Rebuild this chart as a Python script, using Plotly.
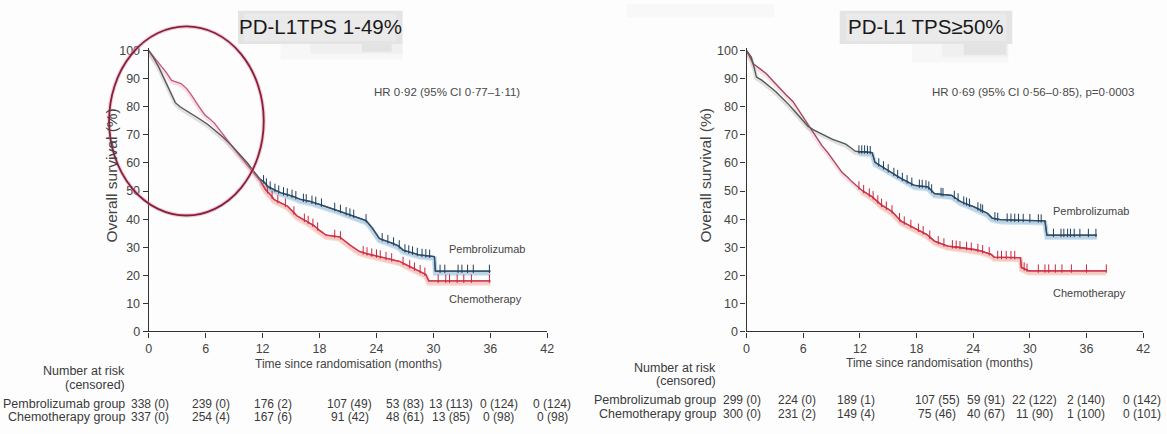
import numpy as np
import plotly.graph_objects as go

W, H = 1167, 434
FONT = "Liberation Sans, Arial, sans-serif"

# ---------------- data ----------------
time_ticks = [0, 6, 12, 18, 24, 30, 36, 42]

# PD-L1 TPS 1-49%
l_pem_t = [0, 0.5, 1.0, 1.5, 2.0, 2.5, 2.8, 3.3, 3.8, 4.5, 5.2, 6.2, 7.0, 7.9, 8.8, 9.7, 10.4,
           11.1, 11.8, 12.1, 12.6, 13.2, 13.9, 14.5, 15.3, 16.0, 17.0, 18.0, 19.0, 20.1, 20.8,
           21.5, 22.9, 23.3, 23.6, 24.3, 25.0, 25.7, 26.3, 26.8, 27.6, 28.5, 30.1, 30.2, 36.0]
l_pem_s = [100, 97.5, 94.5, 91, 87.5, 83.7, 81.5, 80, 79, 77.5, 76, 73.8, 71.5, 69, 66, 62.7, 60,
           56.9, 54, 53.4, 51.5, 50.5, 49.4, 48.8, 48, 47, 46.3, 45.3, 44.2, 43, 42,
           41.2, 39.5, 38, 36.6, 33.1, 32.3, 31.4, 30.5, 29, 28.2, 27.3, 26.7, 21.5, 21.5]
l_che_t = [0, 0.6, 1.3, 1.9, 2.4, 2.9, 3.4, 4.0, 4.5, 5.2, 5.9, 6.4, 6.9, 7.6, 8.3, 9.0, 9.7, 10.4,
           11.1, 11.8, 12.3, 12.8, 13.2, 13.9, 14.6, 15.1, 15.6, 16.5, 17.4, 18.0, 18.7, 20.1,
           20.6, 21.2, 22.2, 23.2, 24.3, 25.3, 26.4, 27.1, 27.8, 28.5, 29.2, 29.5, 36.0]
l_che_s = [100, 97.5, 94.8, 92, 89.4, 88.8, 88.3, 86.5, 84.2, 80.5, 77.2, 75.8, 74.3, 71.2, 68, 65,
           62.1, 59.2, 56.3, 53.4, 50.5, 48.8, 47, 45.8, 44.7, 43, 41.2, 39.5, 37.7, 36, 34.3,
           33.7, 32.3, 30.8, 28.5, 27.5, 26.7, 25.8, 25, 23.8, 22.6, 21.5, 20.3, 18, 18]
l_pem_cens = [12.1, 12.4, 12.8, 13.3, 13.7, 14.2, 14.6, 15.1, 15.5, 16.3, 16.6, 17.2, 17.6, 18.2,
              19.6, 20.2, 20.8, 21.2, 21.6, 22.9, 24.6, 25.2, 25.8, 26.4, 27.0, 27.4, 27.8, 28.3,
              28.8, 29.2, 29.6, 30.7, 31.2, 32.6, 33.0, 33.6, 34.2, 35.9]
l_che_cens = [12.5, 13.0, 13.6, 14.4, 15.3, 16.4, 16.8, 17.3, 17.8, 19.6, 20.2, 22.6, 23.0, 23.5,
              24.0, 24.4, 25.0, 25.6, 26.8, 27.5, 28.0, 28.6, 29.1, 30.5, 31.3, 31.7, 32.5, 33.2,
              34.0, 35.9]
l_risk_pem = ["338 (0)", "239 (0)", "176 (2)", "107 (49)", "53 (83)", "13 (113)", "0 (124)", "0 (124)"]
l_risk_che = ["337 (0)", "254 (4)", "167 (6)", "91 (42)", "48 (61)", "13 (85)", "0 (98)", "0 (98)"]

# PD-L1 TPS >= 50%
r_pem_t = [0, 0.5, 0.8, 1.05, 1.6, 2.1, 2.6, 3.1, 3.8, 4.5, 5.0, 5.6, 6.0, 6.5, 7.1, 7.7, 8.4, 9.1,
           9.8, 10.5, 11.0, 11.5, 11.9, 12.5, 13.3, 13.6, 14.1, 14.7, 15.5, 16.4, 17.1, 17.8, 19.2,
           19.9, 21.7, 22.2, 22.7, 23.4, 24.1, 24.8, 25.5, 26.0, 26.9, 31.6, 31.8, 37.1]
r_pem_s = [100, 97.7, 94, 90.6, 89.5, 88.3, 86.8, 85.4, 83.2, 80.7, 78.8, 76.6, 74.8, 73.1, 71.8,
           70.8, 69.6, 68.4, 67.6, 66.7, 65.5, 64.2, 64.0, 64.0, 63.7, 60.2, 59.2, 57.9, 56.2, 54.4,
           53.2, 52, 51.5, 49.1, 48.5, 47.4, 46.2, 45.3, 44.4, 43.2, 42.1, 40.4, 39.8, 39.4, 34.3, 34.3]
r_che_t = [0, 0.7, 1.4, 2.1, 2.8, 3.5, 4.2, 4.9, 5.4, 5.9, 6.5, 7.0, 7.5, 8.0, 8.6, 9.1, 9.6, 10.1,
           10.7, 11.2, 12.2, 12.8, 13.3, 13.8, 14.3, 14.9, 15.4, 15.9, 16.4, 17.1, 17.8, 18.5, 19.1,
           19.9, 20.6, 21.3, 22.4, 23.4, 24.1, 24.8, 25.4, 25.9, 26.2, 29.0, 29.1, 29.5, 29.9, 38.1]
r_che_s = [100, 95.3, 93.6, 91.8, 89.2, 86.5, 84.2, 81.9, 79.3, 76.6, 73.9, 71.3, 68.7, 66.1, 63.7,
           61.4, 59.1, 56.7, 54.9, 53.2, 50.3, 49.1, 48, 46.5, 45, 43.8, 42.7, 40.9, 39.2, 38, 36.8,
           35.6, 34.5, 32.2, 31.3, 30.4, 30.0, 29.6, 29.2, 28.7, 28.1, 27.5, 26.5, 26.3, 22.8, 22.2,
           21.6, 21.6]
r_pem_cens = [11.9, 12.2, 12.5, 12.8, 13.1, 14.0, 14.5, 15.0, 15.6, 16.0, 16.5, 17.0, 17.5, 18.3,
              18.6, 19.0, 19.3, 19.6, 20.6, 20.8, 22.0, 22.4, 23.0, 23.3, 23.6, 24.5, 24.8, 25.0,
              26.3, 26.6, 27.6, 28.0, 28.4, 28.8, 29.3, 30.0, 30.9, 31.2, 32.5, 33.3, 33.6, 34.0,
              34.3, 34.7, 35.3, 36.2, 37.0]
r_che_cens = [11.9, 12.4, 13.0, 13.4, 13.9, 14.3, 14.8, 15.4, 16.2, 16.7, 17.4, 18.2, 18.7, 19.4,
              20.3, 20.9, 21.8, 22.2, 22.6, 23.3, 23.8, 24.5, 25.0, 25.7, 26.6, 27.0, 27.5, 28.0,
              28.4, 29.4, 29.7, 30.9, 31.6, 32.0, 32.7, 33.4, 34.4, 36.0, 38.1]
r_risk_pem = ["299 (0)", "224 (0)", "189 (1)", "107 (55)", "59 (91)", "22 (122)", "2 (140)", "0 (142)"]
r_risk_che = ["300 (0)", "231 (2)", "149 (4)", "75 (46)", "40 (67)", "11 (90)", "1 (100)", "0 (101)"]

titles = ["PD-L1TPS 1-49%", "PD-L1 TPS≥50%"]
hr_text = ["HR 0·92 (95% CI 0·77–1·11)", "HR 0·69 (95% CI 0·56–0·85), p=0·0003"]
row_labels = ["Number at risk", "(censored)", "Pembrolizumab group", "Chemotherapy group"]

# ---------------- layout helpers ----------------
def px(xp):
    return xp / W

def py(yp):
    return 1 - yp / H

# pixel extent of each panel's time axis (0 to 42 months)
x_pix = [(147, 549), (750, 1150)]
x_dom = [[px(a), px(b)] for a, b in x_pix]
y_dom = [py(336), py(45)]

def month_px(i, m):
    a, b = x_pix[i]
    return a + (b - a) * m / 42.0

# risk-table column centres, in months
table_cols = [[0.1, 6.6, 13.1, 21.2, 27.0, 31.9, 36.9, 42.5],
              [-0.5, 5.3, 11.6, 20.2, 25.4, 30.5, 35.9, 41.9]]

fig = go.Figure()

panels = [
    dict(pt=l_pem_t, ps=l_pem_s, ct=l_che_t, cs=l_che_s, pc=l_pem_cens, cc=l_che_cens,
         rp=l_risk_pem, rc=l_risk_che),
    dict(pt=r_pem_t, ps=r_pem_s, ct=r_che_t, cs=r_che_s, pc=r_pem_cens, cc=r_che_cens,
         rp=r_risk_pem, rc=r_risk_che),
]

early_pem = ["#555555", "#4d5a55"]
early_che = ["#c45a7a", "#a8455a"]

for i, p in enumerate(panels):
    xa, ya = ("x", "y") if i == 0 else ("x2", "y2")
    pt, ps = np.array(p["pt"]), np.array(p["ps"])
    ct, cs = np.array(p["ct"]), np.array(p["cs"])
    late_p = pt >= 11.8
    late_c = ct >= 11.8
    # soft halo under each curve
    fig.add_trace(go.Scatter(x=pt, y=ps - 0.6, xaxis=xa, yaxis=ya, mode="lines",
                             line=dict(color="rgba(150,150,150,0.28)", width=4),
                             hoverinfo="skip", showlegend=False))
    fig.add_trace(go.Scatter(x=ct, y=cs - 0.6, xaxis=xa, yaxis=ya, mode="lines",
                             line=dict(color="rgba(230,150,170,0.28)", width=4),
                             hoverinfo="skip", showlegend=False))
    fig.add_trace(go.Scatter(x=pt[late_p], y=ps[late_p] - 0.8, xaxis=xa, yaxis=ya, mode="lines",
                             line=dict(color="rgba(120,180,230,0.35)", width=5),
                             hoverinfo="skip", showlegend=False))
    fig.add_trace(go.Scatter(x=ct[late_c], y=cs[late_c] - 0.8, xaxis=xa, yaxis=ya, mode="lines",
                             line=dict(color="rgba(245,160,130,0.35)", width=5),
                             hoverinfo="skip", showlegend=False))
    # main curves
    fig.add_trace(go.Scatter(x=ct, y=cs, xaxis=xa, yaxis=ya, mode="lines",
                             line=dict(color=early_che[i], width=1.3),
                             name="Chemotherapy", showlegend=False))
    fig.add_trace(go.Scatter(x=pt, y=ps, xaxis=xa, yaxis=ya, mode="lines",
                             line=dict(color=early_pem[i], width=1.3),
                             name="Pembrolizumab", showlegend=False))
    fig.add_trace(go.Scatter(x=ct[late_c], y=cs[late_c], xaxis=xa, yaxis=ya, mode="lines",
                             line=dict(color="#d6304c", width=1.3),
                             hoverinfo="skip", showlegend=False))
    fig.add_trace(go.Scatter(x=pt[late_p], y=ps[late_p], xaxis=xa, yaxis=ya, mode="lines",
                             line=dict(color="#2a4e70", width=1.3),
                             hoverinfo="skip", showlegend=False))
    # censoring marks
    fig.add_trace(go.Scatter(x=p["cc"], y=np.interp(p["cc"], ct, cs) + 0.8, xaxis=xa, yaxis=ya,
                             mode="markers",
                             marker=dict(symbol="line-ns", size=6,
                                         line=dict(color="#c8283c", width=1.0)),
                             hoverinfo="skip", showlegend=False))
    fig.add_trace(go.Scatter(x=p["pc"], y=np.interp(p["pc"], pt, ps) + 0.8, xaxis=xa, yaxis=ya,
                             mode="markers",
                             marker=dict(symbol="line-ns", size=6,
                                         line=dict(color="#1f3f5f", width=1.0)),
                             hoverinfo="skip", showlegend=False))

axis_common = dict(showline=True, linecolor="#333333", linewidth=1.3, ticks="outside",
                   ticklen=5, tickcolor="#333333", tickwidth=1.1, showgrid=False,
                   zeroline=False, tickfont=dict(family=FONT, size=12.5, color="#444444"))

fig.update_layout(
    width=W, height=H, margin=dict(l=0, r=0, t=0, b=0),
    paper_bgcolor="#fdfdfd", plot_bgcolor="rgba(0,0,0,0)",
    showlegend=False,
    xaxis=dict(domain=x_dom[0], range=[0, 42], tickvals=time_ticks, anchor="y", **axis_common),
    yaxis=dict(domain=y_dom, range=[0, 101], tickvals=list(range(0, 101, 10)), anchor="x",
               **axis_common),
    xaxis2=dict(domain=x_dom[1], range=[0, 42], tickvals=time_ticks, anchor="y2", **axis_common),
    yaxis2=dict(domain=y_dom, range=[0, 101], tickvals=list(range(0, 101, 10)), anchor="x2",
                **axis_common),
)

shapes = []
annots = []

def rect(x0, y0, x1, y1, color):
    shapes.append(dict(type="rect", xref="paper", yref="paper", x0=px(x0), x1=px(x1),
                       y0=py(y1), y1=py(y0), fillcolor=color, line=dict(width=0),
                       layer="below"))

# title boxes with a soft shadow beneath
title_box = [(237, 7, 403, 41), (844, 7, 1018, 41)]
shadow = [(280, 41, 403, 57, 362, 392), (917, 41, 1014, 60, 969, 1012)]
for (x0, y0, x1, y1), (s0, t0, s1, t1, d0, d1) in zip(title_box, shadow):
    rect(s0, t0, s1, t1, "rgba(215,215,215,0.14)")
    rect(s0 + 30, t0, s1, t1 - 6, "rgba(200,200,200,0.15)")
    rect(d0, t0, d1, t1 - 8, "rgba(180,180,180,0.22)")
    rect(x0, y0, x1, y1, "#e4e4e4")
    rect(x0 + 6, y0 + 3, x1 - 6, y1 - 3, "#eaeaea")
rect(629, 0, 778, 14, "rgba(225,225,225,0.16)")

title_x = [320, 931]
for i in range(2):
    annots.append(dict(x=px(title_x[i]), y=py(23), xref="paper", yref="paper", text=titles[i],
                       showarrow=False, xanchor="center", yanchor="middle",
                       font=dict(family=FONT, size=20.5, color="#1a1a1a")))

# highlight ellipse over the early crossing region
shapes.append(dict(type="circle", xref="paper", yref="paper", x0=px(107), x1=px(263),
                   y0=py(217), y1=py(23), line=dict(color="rgba(230,150,170,0.45)", width=4)))
shapes.append(dict(type="circle", xref="paper", yref="paper", x0=px(107), x1=px(263),
                   y0=py(217), y1=py(23), line=dict(color="#86203c", width=1.8)))

# hazard ratio text
hr_x = [523, 1143]
for i in range(2):
    annots.append(dict(x=px(hr_x[i]), y=py(90), xref="paper", yref="paper", text=hr_text[i],
                       showarrow=False, xanchor="right", yanchor="middle",
                       font=dict(family=FONT, size=11.5, color="#4a4a4a")))

# curve labels
lab = [((448, 251), (448, 303)), ((1057, 212), (1057, 297))]
for (pp, cp) in lab:
    annots.append(dict(x=px(pp[0]), y=py(pp[1]), xref="paper", yref="paper", text="Pembrolizumab",
                       showarrow=False, xanchor="left", yanchor="middle",
                       font=dict(family=FONT, size=11, color="#444444")))
    annots.append(dict(x=px(cp[0]), y=py(cp[1]), xref="paper", yref="paper", text="Chemotherapy",
                       showarrow=False, xanchor="left", yanchor="middle",
                       font=dict(family=FONT, size=11, color="#444444")))

# axis titles
ytitle_x = [109, 709]
xtitle = [(348, 369), (945, 368)]
for i in range(2):
    annots.append(dict(x=px(ytitle_x[i]), y=py(176), xref="paper", yref="paper",
                       text="Overall survival (%)", textangle=-90, showarrow=False,
                       xanchor="center", yanchor="middle",
                       font=dict(family=FONT, size=15.5, color="#444444")))
    annots.append(dict(x=px(xtitle[i][0]), y=py(xtitle[i][1]), xref="paper", yref="paper",
                       text="Time since randomisation (months)", showarrow=False,
                       xanchor="center", yanchor="middle",
                       font=dict(family=FONT, size=12, color="#444444")))

# number-at-risk tables
label_right = [125, 721]
label_rows = [[377, 391, 410, 424], [373, 387, 406, 421]]
for i, p in enumerate(panels):
    for txt, yp in zip(row_labels, label_rows[i]):
        annots.append(dict(x=px(label_right[i]), y=py(yp), xref="paper", yref="paper", text=txt,
                           showarrow=False, xanchor="right", yanchor="middle",
                           font=dict(family=FONT, size=12.5, color="#3a3a3a")))
    for col, vp, vc in zip(table_cols[i], p["rp"], p["rc"]):
        xc = px(month_px(i, col))
        annots.append(dict(x=xc, y=py(label_rows[i][2]), xref="paper", yref="paper", text=vp,
                           showarrow=False, xanchor="center", yanchor="middle",
                           font=dict(family=FONT, size=12, color="#3a3a3a")))
        annots.append(dict(x=xc, y=py(label_rows[i][3]), xref="paper", yref="paper", text=vc,
                           showarrow=False, xanchor="center", yanchor="middle",
                           font=dict(family=FONT, size=12, color="#3a3a3a")))

fig.update_layout(shapes=shapes, annotations=annots)
fig.write_html("out.html")
